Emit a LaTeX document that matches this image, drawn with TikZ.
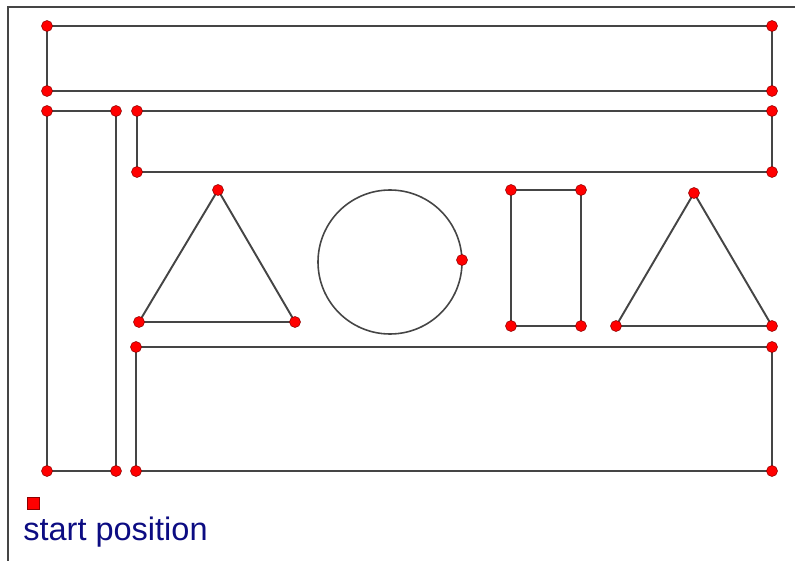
\documentclass[tikz,border=0pt]{standalone}
\usepackage{fontspec}
\setmainfont{Liberation Sans}
\usepackage{tikz}
\usetikzlibrary{positioning}
\definecolor{edgegray}{HTML}{454545}
\definecolor{pointred}{HTML}{FF0000}
\definecolor{labelnavy}{HTML}{0C0C82}

\tikzset{
  wall/.style={edgegray, line width=1.1pt, line join=round},
  pt/.style={circle, fill=pointred, draw=red!55!black, line width=0.3pt, inner sep=0pt, minimum size=0.22cm},
  startbox/.style={rectangle, fill=pointred, draw=red!55!black, line width=0.3pt, inner sep=0pt, minimum size=0.24cm},
}

\begin{document}
\begin{tikzpicture}[x=0.02cm,y=-0.02cm]
\useasboundingbox (0,0) rectangle (795,561);
% frame
\draw[edgegray, line width=0.8pt] (8,561) -- (8,7) -- (795,7);

% corner points
\coordinate (a1) at (47,26);   \coordinate (a2) at (772,26);
\coordinate (a3) at (772,91);  \coordinate (a4) at (47,91);
\coordinate (b1) at (47,111);  \coordinate (b2) at (116,111);
\coordinate (b3) at (116,471); \coordinate (b4) at (47,471);
\coordinate (c1) at (137,111); \coordinate (c2) at (772,111);
\coordinate (c3) at (772,172); \coordinate (c4) at (137,172);
\coordinate (t1) at (218,190); \coordinate (t2) at (295,322); \coordinate (t3) at (139,322);
\coordinate (o0) at (390,262); \coordinate (o1) at (462,260);
\coordinate (r1) at (511,190); \coordinate (r2) at (581,190);
\coordinate (r3) at (581,326); \coordinate (r4) at (511,326);
\coordinate (u1) at (694,193); \coordinate (u2) at (772,326); \coordinate (u3) at (616,326);
\coordinate (d1) at (136,347); \coordinate (d2) at (772,347);
\coordinate (d3) at (772,471); \coordinate (d4) at (136,471);

% obstacles
\draw[wall] (a1) -- (a2) -- (a3) -- (a4) -- cycle;
\draw[wall] (b1) -- (b2) -- (b3) -- (b4) -- cycle;
\draw[wall] (c1) -- (c2) -- (c3) -- (c4) -- cycle;
\draw[wall] (t1) -- (t2) -- (t3) -- cycle;
\draw[wall, line width=0.9pt] (o0) circle[radius=72];
\draw[wall] (r1) -- (r2) -- (r3) -- (r4) -- cycle;
\draw[wall] (u1) -- (u2) -- (u3) -- cycle;
\draw[wall] (d1) -- (d2) -- (d3) -- (d4) -- cycle;

% vertices
\foreach \p in {a1,a2,a3,a4,b1,b2,b3,b4,c1,c2,c3,c4,t1,t2,t3,o1,r1,r2,r3,r4,u1,u2,u3,d1,d2,d3,d4}
  \node[pt] (v\p) at (\p) {};

% start
\node[startbox] (start) at (33,503) {};
\node[labelnavy, anchor=base west, inner sep=0pt, font=\fontsize{18.5}{22}\selectfont] (startlabel) at (23,540) {start position};
\end{tikzpicture}
\end{document}
